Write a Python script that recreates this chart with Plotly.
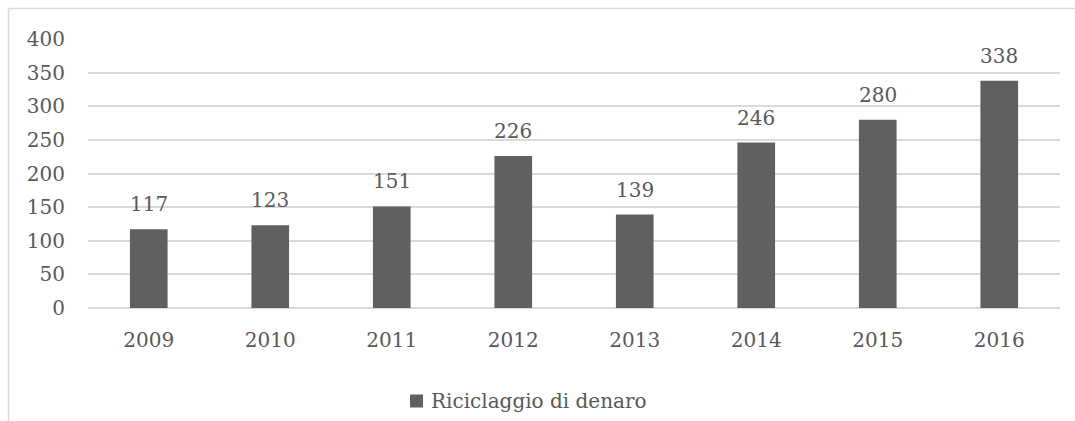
import plotly.graph_objects as go

years = ["2009", "2010", "2011", "2012", "2013", "2014", "2015", "2016"]
values = [117, 123, 151, 226, 139, 246, 280, 338]
series_name = "Riciclaggio di denaro"
y_ticks = [0, 50, 100, 150, 200, 250, 300, 350, 400]

FONT = "DejaVu Serif"
TXT = "#595959"
GRID = "#d9d9d9"
BAR = "#606060"

W, H = 1075, 421
L, R, T, B = 88, 15, 39, 113
pw, ph = W - L - R, H - T - B

fig = go.Figure(
    go.Bar(
        x=years,
        y=values,
        name=series_name,
        marker=dict(color=BAR, line=dict(width=0)),
        showlegend=False,
    )
)

# value labels above each bar (category index positions)
for i, v in enumerate(values):
    fig.add_annotation(x=i, y=v, xref="x", yref="y", text=str(v), showarrow=False,
                       yanchor="bottom", yshift=11,
                       font=dict(family=FONT, size=20, color=TXT))

# chart-area frame (top and left edges)
fx = (8.5 - L) / pw
fy = (H - B - 8.5) / ph
fig.add_shape(type="line", xref="paper", yref="paper", x0=fx, x1=2, y0=fy, y1=fy,
              line=dict(color=GRID, width=1.5))
fig.add_shape(type="line", xref="paper", yref="paper", x0=fx, x1=fx, y0=fy, y1=-2,
              line=dict(color=GRID, width=1.5))

# legend: swatch + series name
ly = (H - B - 401) / ph
sx0, sx1 = (410 - L) / pw, (423 - L) / pw
sh = 6.5 / ph
fig.add_shape(type="rect", xref="paper", yref="paper", x0=sx0, x1=sx1,
              y0=ly - sh, y1=ly + sh, fillcolor=BAR, line=dict(width=0))
fig.add_annotation(x=(429 - L) / pw, y=ly, xref="paper", yref="paper", text=series_name,
                   showarrow=False, xanchor="left", yanchor="middle",
                   font=dict(family=FONT, size=20, color=TXT))

fig.update_layout(
    width=W,
    height=H,
    margin=dict(l=L, r=R, t=T, b=B, pad=0, autoexpand=False),
    paper_bgcolor="white",
    plot_bgcolor="white",
    bargap=0.69,
    showlegend=False,
    font=dict(family=FONT, size=20, color=TXT),
    xaxis=dict(type="category", range=[-0.5, len(years) - 0.5], showgrid=False,
               showline=False, ticks="", ticklabelstandoff=18,
               tickfont=dict(family=FONT, size=20, color=TXT)),
    yaxis=dict(range=[0, 400], tickvals=y_ticks, showgrid=True, gridcolor=GRID,
               gridwidth=1.5, zeroline=True, zerolinecolor=GRID, zerolinewidth=1.5,
               showline=False, ticks="", ticklabelstandoff=22,
               tickfont=dict(family=FONT, size=20, color=TXT)),
)

fig.write_html("out.html")
